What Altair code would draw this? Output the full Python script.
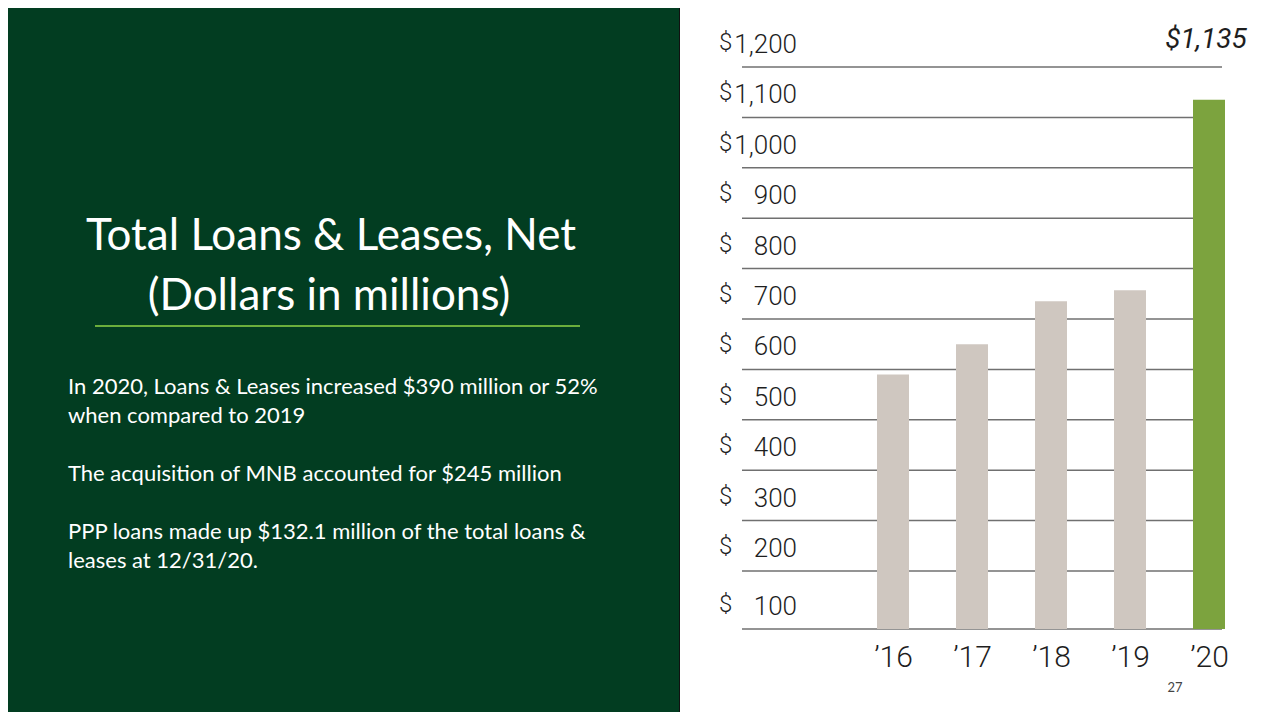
import altair as alt
import pandas as pd

# ---- data ----
years = ["\u201916", "\u201917", "\u201918", "\u201919", "\u201920"]
loans = [590, 650, 735, 757, 1135]
bar_colors = ["#cfc7c0", "#cfc7c0", "#cfc7c0", "#cfc7c0", "#7ca33e"]
tick_values = [100, 200, 300, 400, 500, 600, 700, 800, 900, 1000, 1100, 1200]
tick_labels = ["100", "200", "300", "400", "500", "600", "700", "800", "900", "1,000", "1,100", "1,200"]
value_label = "$1,135"
title_lines = ["Total Loans & Leases, Net", "(Dollars in millions)"]
body_lines = [
    "In 2020, Loans & Leases increased $390 million or 52%",
    "when compared to 2019",
    "The acquisition of MNB accounted for $245 million",
    "PPP loans made up $132.1 million of the total loans &",
    "leases at 12/31/20.",
]
page_number = "27"

# ---- layout (plot area at page x 742..1222, y 67..629) ----
W, H = 480, 562
PL, PT, PR, PB = 734, 59, 50, 83
X0, Y0 = 742, 67  # page coords of plot origin

def px(x):
    return x - X0

def py(y):
    return y - Y0

NARROW = "Roboto"
BODY = "Lato"
INK = "#1e1e1e"

bars_df = pd.DataFrame({"year": years, "value": loans, "color": bar_colors})
ticks_df = pd.DataFrame({"v": tick_values, "label": tick_labels})

yscale = alt.Scale(domain=[100, 200, 1200], range=[H, 504, 0], zero=False, nice=False)
xscale = alt.Scale(type="point", domain=years, range=[151, 467], padding=0)

# left green panel
panel = alt.Chart(pd.DataFrame({"a": [0]})).mark_rect(color="#023d21").encode(
    x=alt.value(-PL), x2=alt.value(px(679)), y=alt.value(-PT), y2=alt.value(H + PB)
)
panel_edge = alt.Chart(pd.DataFrame({"a": [0]})).mark_rule(color="#111111", strokeWidth=1).encode(
    x=alt.value(px(679.5)), y=alt.value(-PT), y2=alt.value(H + PB)
)

# gridlines
grid = alt.Chart(ticks_df).mark_rule(color="#707070", strokeWidth=1.5).encode(
    y=alt.Y("v:Q", scale=yscale, axis=None),
    x=alt.value(0), x2=alt.value(W),
)

# y labels
dollar = alt.Chart(ticks_df).mark_text(
    text="$", font=NARROW, fontWeight=300, fontSize=24, color=INK, align="left", baseline="middle", dy=-24
).encode(y=alt.Y("v:Q", scale=yscale, axis=None), x=alt.value(px(719)))
nums = alt.Chart(ticks_df).mark_text(
    font=NARROW, fontWeight=300, fontSize=26, color=INK, align="right", baseline="middle", dy=-22
).encode(y=alt.Y("v:Q", scale=yscale, axis=None), x=alt.value(px(797)), text="label:N")

# bars
bars = alt.Chart(bars_df).mark_bar(size=32).encode(
    x=alt.X("year:N", scale=xscale, sort=years,
            axis=alt.Axis(title=None, domain=False, ticks=False, labelFont=NARROW, labelFontWeight=300,
                          labelFontSize=30, labelColor=INK, labelPadding=13, labelAngle=0)),
    y=alt.Y("value:Q", scale=yscale, axis=None),
    y2=alt.datum(100),
    color=alt.Color("color:N", scale=None),
)

# value label over last bar
vlab = alt.Chart(pd.DataFrame({"year": [years[-1]], "t": [value_label]})).mark_text(
    font=NARROW, fontSize=28, fontStyle="italic", color=INK, align="center", baseline="middle", dx=-3
).encode(x=alt.X("year:N", scale=xscale), y=alt.value(py(40)), text="t:N")

pnum = alt.Chart(pd.DataFrame({"t": [page_number]})).mark_text(
    font=BODY, fontSize=13, color="#444444", align="center", baseline="middle"
).encode(x=alt.value(px(1175)), y=alt.value(py(688)), text="t:N")

# left panel texts
title1 = alt.Chart(pd.DataFrame({"t": [title_lines[0]]})).mark_text(
    font=BODY, fontSize=44, color="white", align="center", baseline="middle"
).encode(x=alt.value(px(331)), y=alt.value(py(237)), text="t:N")
title2 = alt.Chart(pd.DataFrame({"t": [title_lines[1]]})).mark_text(
    font=BODY, fontSize=44, color="white", align="center", baseline="middle"
).encode(x=alt.value(px(329)), y=alt.value(py(297)), text="t:N")
underline = alt.Chart(pd.DataFrame({"a": [0]})).mark_rule(color="#6cae3c", strokeWidth=2).encode(
    x=alt.value(px(95)), x2=alt.value(px(580)), y=alt.value(py(326))
)

body_y = [387, 416, 474, 532, 561]
body_layers = []
for line, yy in zip(body_lines, body_y):
    body_layers.append(
        alt.Chart(pd.DataFrame({"t": [line]})).mark_text(
            font=BODY, fontSize=22, color="white", align="left", baseline="middle"
        ).encode(x=alt.value(px(68)), y=alt.value(py(yy)), text="t:N")
    )

chart = alt.layer(
    panel, panel_edge, grid, bars, dollar, nums, vlab, pnum, title1, title2, underline, *body_layers
).properties(
    width=W, height=H,
    padding={"left": PL, "top": PT, "right": PR, "bottom": PB},
    autosize=alt.AutoSizeParams(type="none"),
    background="white",
).configure_view(stroke=None)

chart.save("out.html", embed_options={"renderer": "svg", "actions": False})
